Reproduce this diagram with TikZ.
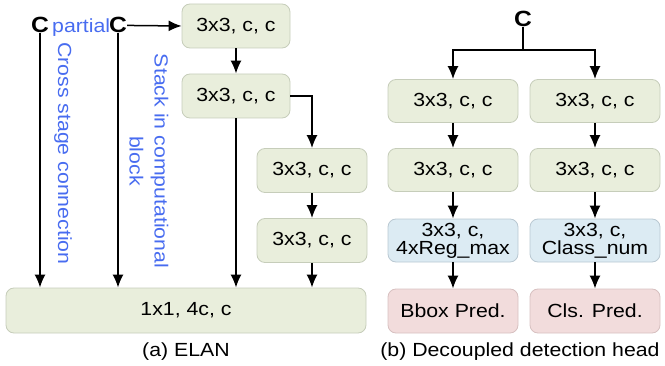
\documentclass[tikz,border=0pt]{standalone}
\usepackage{fontspec}
\setmainfont{Liberation Sans}[FakeStretch=1.12]
\usetikzlibrary{arrows.meta}
\definecolor{gfill}{RGB}{233,238,220}
\definecolor{gdraw}{RGB}{198,205,186}
\definecolor{bfill}{RGB}{220,235,243}
\definecolor{bdraw}{RGB}{185,200,210}
\definecolor{pfill}{RGB}{242,220,220}
\definecolor{pdraw}{RGB}{215,192,192}
\definecolor{txtblue}{RGB}{72,108,240}
\tikzset{
  x=1pt, y=1pt,
  every node/.style={font=\fontsize{19}{22}\selectfont, inner sep=0pt},
  box/.style={draw=gdraw, fill=gfill, rounded corners=8pt, line width=0.8pt, minimum height=44pt, align=center},
  bbox/.style={box, draw=bdraw, fill=bfill},
  pbox/.style={box, draw=pdraw, fill=pfill},
  conn/.style={line width=1.5pt, -{Latex[length=13pt,width=11pt]}},
  plain/.style={line width=1.5pt},
  bluetxt/.style={text=txtblue},
  bigc/.style={font=\fontsize{22}{22}\selectfont\bfseries},
}
\begin{document}
\begin{tikzpicture}
\useasboundingbox (0,0) rectangle (665,365);
% ELAN
\node[bigc, anchor=base] (c1) at (40,332) {C};
\node[bluetxt, anchor=base west] (partial) at (52,332) {partial};
\node[bigc, anchor=base] (c2) at (118,332) {C};
\node[box, minimum width=108pt] (e1) at (236,339) {3x3, c, c};
\node[box, minimum width=108pt] (e2) at (236,269) {3x3, c, c};
\node[box, minimum width=110pt] (e3) at (312,194.5) {3x3, c, c};
\node[box, minimum width=110pt] (e4) at (312,124.5) {3x3, c, c};
\node[box, minimum width=360pt, minimum height=45pt] (ebot) at (186,54.5) {1x1, 4c, c};
\node (capa) at (186,13) {(a) ELAN};
\node[bluetxt, rotate=-90, anchor=west] (cross) at (63,323) {Cross stage connection};
\node[bluetxt, rotate=-90, align=center, font=\fontsize{19}{25}\selectfont] (stack) at (149,204) {Stack in computational\\block};
\draw[conn] (c1.south) -- (c1.south |- ebot.north);
\draw[conn] (c2.south) -- (c2.south |- ebot.north);
\draw[conn] (c2.east) -- (e1.west);
\draw[conn] (e1) -- (e2);
\draw[conn] (e2.south) -- (e2.south |- ebot.north);
\draw[conn] (e2.east) -| (e3.north);
\draw[conn] (e3) -- (e4);
\draw[conn] (e4.south) -- (e4.south |- ebot.north);
% Decoupled head
\node[bigc] (cr) at (523,346) {C};
\coordinate (j) at (523,315);
\node[box, minimum width=130pt, minimum height=43pt] (a1) at (453,264) {3x3, c, c};
\node[box, minimum width=130pt, minimum height=43pt] (b1) at (595,264) {3x3, c, c};
\node[box, minimum width=130pt, minimum height=43pt] (a2) at (453,195) {3x3, c, c};
\node[box, minimum width=130pt, minimum height=43pt] (b2) at (595,195) {3x3, c, c};
\node[bbox, minimum width=130pt, minimum height=43pt, font=\fontsize{19}{18}\selectfont] (a3) at (453,124.5) {3x3, c,\\4xReg\_max};
\node[bbox, minimum width=130pt, minimum height=43pt, font=\fontsize{19}{18}\selectfont] (b3) at (595,124.5) {3x3, c,\\Class\_num};
\node[pbox, minimum width=130pt, minimum height=44pt] (a4) at (453,54) {Bbox Pred.};
\node[pbox, minimum width=130pt, minimum height=44pt] (b4) at (595,54) {Cls. Pred.};
\node (capb) at (520,13) {(b) Decoupled detection head};
\draw[plain] (cr.south) -- (j);
\draw[conn] (j) -| (a1.north);
\draw[conn] (j) -| (b1.north);
\draw[conn] (a1) -- (a2);
\draw[conn] (b1) -- (b2);
\draw[conn] (a2) -- (a3);
\draw[conn] (b2) -- (b3);
\draw[conn] (a3) -- (a4);
\draw[conn] (b3) -- (b4);
\end{tikzpicture}
\end{document}
